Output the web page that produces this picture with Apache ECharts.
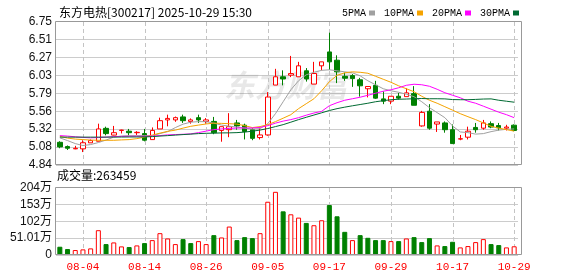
<!DOCTYPE html>
<html>
<head>
<meta charset="utf-8">
<script src="https://cdn.jsdelivr.net/npm/echarts@6/dist/echarts.min.js"></script>
<style>
html,body{margin:0;padding:0;background:#fff;}
#chart{width:578px;height:276px;}
</style>
</head>
<body>
<div id="chart"></div>
<script>
const titleText = '东方电热[300217] 2025-10-29 15:30';
const categories = ['07-30','07-31','08-01','08-04','08-05','08-06','08-07','08-08','08-11','08-12','08-13','08-14','08-15','08-18','08-19','08-20','08-21','08-22','08-25','08-26','08-27','08-28','08-29','09-01','09-02','09-03','09-04','09-05','09-08','09-09','09-10','09-11','09-12','09-15','09-16','09-17','09-18','09-19','09-22','09-23','09-24','09-25','09-26','09-29','09-30','10-09','10-10','10-13','10-14','10-15','10-16','10-17','10-20','10-21','10-22','10-23','10-24','10-27','10-28','10-29'];
const labelDates = ['08-04','08-14','08-26','09-05','09-17','09-29','10-17','10-29'];

const opens  = [5.142,5.085,5.055,5.055,5.135,5.156,5.328,5.238,5.300,5.290,5.270,5.258,5.178,5.320,5.440,5.440,5.480,5.420,5.470,5.420,5.420,5.300,5.310,5.400,5.370,5.310,5.205,5.240,5.904,6.014,6.036,6.014,6.094,5.917,6.160,6.345,6.235,6.020,6.030,5.974,5.855,5.900,5.720,5.690,5.755,5.750,5.790,5.360,5.556,5.385,5.400,5.310,5.185,5.210,5.340,5.330,5.390,5.365,5.330,5.370];
const closes = [5.081,5.063,5.062,5.136,5.165,5.320,5.258,5.270,5.305,5.270,5.275,5.170,5.300,5.430,5.460,5.470,5.430,5.440,5.440,5.440,5.270,5.350,5.350,5.360,5.285,5.195,5.240,5.745,6.014,5.985,6.057,6.160,5.985,6.058,6.213,6.213,6.080,5.995,5.990,5.894,5.885,5.730,5.690,5.755,5.730,5.800,5.635,5.540,5.330,5.413,5.310,5.125,5.190,5.290,5.310,5.400,5.345,5.335,5.345,5.300];
const lows   = [5.063,5.040,5.050,5.012,5.135,5.156,5.235,5.235,5.260,5.230,5.240,5.155,5.178,5.320,5.355,5.415,5.400,5.390,5.400,5.390,5.250,5.150,5.210,5.310,5.180,5.170,5.180,5.230,5.904,5.900,6.010,6.014,5.950,5.917,6.100,6.107,5.930,5.960,5.880,5.750,5.740,5.720,5.650,5.650,5.710,5.750,5.635,5.350,5.310,5.280,5.270,5.125,5.170,5.180,5.270,5.310,5.330,5.300,5.300,5.290];
const highs  = [5.156,5.100,5.095,5.169,5.180,5.390,5.350,5.360,5.310,5.320,5.290,5.320,5.340,5.470,5.510,5.485,5.510,5.460,5.510,5.465,5.480,5.350,5.530,5.440,5.390,5.330,5.330,5.810,6.120,6.100,6.292,6.213,6.130,6.213,6.213,6.601,6.300,6.070,6.050,6.000,5.885,5.960,5.820,5.755,5.800,5.860,5.890,5.560,5.650,5.413,5.420,5.380,5.240,5.350,5.400,5.440,5.420,5.400,5.375,5.380];

const ma5  = [5.201,5.165,5.125,5.099,5.112,5.139,5.172,5.211,5.225,5.231,5.231,5.231,5.231,5.258,5.284,5.338,5.384,5.410,5.417,5.417,5.397,5.371,5.357,5.344,5.331,5.318,5.324,5.390,5.523,5.682,5.841,5.961,6.041,6.074,6.100,6.107,6.094,6.080,6.067,6.027,5.961,5.908,5.855,5.828,5.808,5.782,5.749,5.682,5.603,5.537,5.470,5.360,5.280,5.271,5.251,5.258,5.284,5.304,5.315,5.320];
const ma10 = [5.222,5.198,5.185,5.178,5.172,5.169,5.169,5.169,5.174,5.178,5.191,5.211,5.238,5.264,5.288,5.304,5.331,5.355,5.371,5.386,5.397,5.394,5.390,5.384,5.364,5.338,5.351,5.377,5.417,5.463,5.510,5.590,5.656,5.722,5.828,5.948,6.034,6.067,6.080,6.074,6.061,6.021,5.981,5.941,5.894,5.855,5.815,5.755,5.702,5.662,5.616,5.570,5.523,5.483,5.444,5.400,5.355,5.331,5.311,5.291];
const ma20 = [5.231,5.225,5.215,5.207,5.202,5.205,5.211,5.218,5.221,5.222,5.222,5.222,5.225,5.231,5.241,5.245,5.249,5.254,5.271,5.291,5.311,5.320,5.327,5.332,5.333,5.333,5.340,5.364,5.397,5.424,5.444,5.470,5.503,5.532,5.554,5.629,5.669,5.702,5.722,5.742,5.768,5.795,5.822,5.841,5.868,5.901,5.915,5.908,5.888,5.848,5.802,5.768,5.735,5.689,5.662,5.623,5.583,5.543,5.510,5.470];
const ma30 = [5.211,5.211,5.211,5.211,5.211,5.211,5.211,5.212,5.212,5.213,5.213,5.214,5.218,5.225,5.231,5.238,5.245,5.251,5.258,5.262,5.264,5.267,5.268,5.271,5.278,5.290,5.305,5.325,5.351,5.377,5.410,5.444,5.475,5.505,5.535,5.565,5.590,5.610,5.628,5.645,5.662,5.682,5.696,5.709,5.715,5.718,5.722,5.725,5.722,5.722,5.720,5.711,5.709,5.709,5.713,5.718,5.720,5.702,5.689,5.676];

const volumes = [250000,180000,150000,170000,200000,750000,330000,380000,260000,240000,290000,360000,450000,660000,500000,330000,480000,360000,420000,330000,600000,530000,860000,450000,540000,510000,660000,1610000,1910000,1320000,1230000,1130000,970000,900000,1050000,1510000,1170000,700000,450000,600000,520000,450000,450000,420000,420000,500000,540000,390000,510000,290000,270000,400000,230000,270000,390000,480000,330000,300000,230000,263459];
const volUp = [0,0,1,1,1,1,0,1,1,0,1,0,1,1,1,1,0,0,1,1,0,1,1,0,0,0,1,1,1,0,1,1,0,1,1,0,0,0,1,0,0,0,0,1,0,1,0,0,0,1,0,0,1,1,1,1,0,0,1,1];

const priceTicks = ['4.84','5.08','5.32','5.56','5.79','6.03','6.27','6.51','6.75'];
const volTicks = ['0','51.01万','102万','153万','204万'];
const priceMin = 4.84, priceMax = 6.75;
const volMax = 2040400;

const RED = '#ff0000', GREEN = '#008000';
const chart = echarts.init(document.getElementById('chart'), null, {renderer: 'canvas'});

const candleData = categories.map((c, i) => [opens[i], closes[i], lows[i], highs[i]]);
const volData = volumes.map((v, i) => ({
  value: v,
  itemStyle: volUp[i] ? {color: '#ffffff', borderColor: RED, borderWidth: 1} : {color: GREEN, borderColor: GREEN, borderWidth: 1}
}));
const axisFont = "'Liberation Sans', 'Noto Sans CJK SC', sans-serif";
const monoFont = "'Liberation Mono', monospace";

const option = {
  animation: false,
  backgroundColor: '#ffffff',
  title: {
    text: titleText, left: 54, top: 1,
    textStyle: {fontSize: 12, fontWeight: 'normal', color: '#000', fontFamily: "'Noto Sans CJK SC', sans-serif"}
  },
  legend: {
    data: ['5PMA', '10PMA', '20PMA', '30PMA'],
    left: 337, top: 3, align: 'right', icon: 'rect', itemWidth: 6, itemHeight: 5, itemGap: 9,
    textStyle: {fontFamily: monoFont, fontSize: 10, color: '#000', padding: [0, -2, 0, 0]}
  },
  grid: [
    {left: 56, top: 21.5, width: 462, height: 143.5},
    {left: 56, top: 187.5, width: 462, height: 67.5}
  ],
  xAxis: [
    {type: 'category', gridIndex: 0, data: categories, boundaryGap: true,
      axisLine: {show: false}, axisTick: {show: false}, axisLabel: {show: false}, splitLine: {show: false}},
    {type: 'category', gridIndex: 1, data: categories, boundaryGap: true,
      axisLine: {show: false}, axisTick: {show: false}, splitLine: {show: false},
      axisLabel: {color: RED, fontFamily: monoFont, fontSize: 11, margin: 7,
        interval: (idx, val) => labelDates.indexOf(val) >= 0}}
  ],
  yAxis: [
    {type: 'value', gridIndex: 0, min: priceMin, max: priceMax, interval: (priceMax - priceMin) / 8,
      axisLine: {show: false}, axisTick: {show: false},
      splitLine: {show: true, lineStyle: {color: '#cccccc', width: 1}},
      axisLabel: {color: '#111', fontFamily: axisFont, fontSize: 12, margin: 4, showMinLabel: true, showMaxLabel: true,
        formatter: v => priceTicks[Math.round((v - priceMin) / ((priceMax - priceMin) / 8))]}},
    {type: 'value', gridIndex: 1, min: 0, max: volMax, interval: volMax / 4,
      axisLine: {show: false}, axisTick: {show: false},
      splitLine: {show: true, lineStyle: {color: '#cccccc', width: 1}},
      axisLabel: {color: '#111', fontFamily: axisFont, fontSize: 12, margin: 4, showMinLabel: true, showMaxLabel: true,
        formatter: v => volTicks[Math.round(v / (volMax / 4))]}}
  ],
  series: [
    {name: 'K', type: 'candlestick', xAxisIndex: 0, yAxisIndex: 0, data: candleData, barWidth: 5, z: 3,
      itemStyle: {color: '#ffffff', color0: GREEN, borderColor: RED, borderColor0: GREEN, borderWidth: 1}},
    {name: '5PMA', type: 'line', xAxisIndex: 0, yAxisIndex: 0, data: ma5, showSymbol: false, symbol: 'none', z: 4,
      lineStyle: {color: '#a0a0a0', width: 1}, itemStyle: {color: '#a0a0a0'}},
    {name: '10PMA', type: 'line', xAxisIndex: 0, yAxisIndex: 0, data: ma10, showSymbol: false, symbol: 'none', z: 4,
      lineStyle: {color: '#f5a300', width: 1}, itemStyle: {color: '#f5a300'}},
    {name: '20PMA', type: 'line', xAxisIndex: 0, yAxisIndex: 0, data: ma20, showSymbol: false, symbol: 'none', z: 4,
      lineStyle: {color: '#ff00ff', width: 1}, itemStyle: {color: '#ff00ff'}},
    {name: '30PMA', type: 'line', xAxisIndex: 0, yAxisIndex: 0, data: ma30, showSymbol: false, symbol: 'none', z: 4,
      lineStyle: {color: '#006a32', width: 1}, itemStyle: {color: '#006a32'}},
    {name: 'VOL', type: 'bar', xAxisIndex: 1, yAxisIndex: 1, data: volData, barWidth: 5, z: 3}
  ]
};
chart.setOption(option);

// vertical dashed grid lines at the labelled dates; x taken from the grid's own scale
const gridSpans = [[22, 165], [188, 255]];
const dashEls = [];
labelDates.forEach(d => {
  let pt = chart.convertToPixel({gridIndex: 0}, [d, priceMin]);
  let px = pt && isFinite(pt[0]) ? pt[0] : chart.convertToPixel({xAxisIndex: 0}, categories.indexOf(d));
  const x = Math.round(px);
  gridSpans.forEach(r => {
    for (let y = r[0]; y < r[1]; y += 7) {
      const y2 = Math.min(y + 4, r[1]);
      dashEls.push({type: 'rect', silent: true, z: 2, zlevel: 0,
        shape: {x: x, y: y, width: 1, height: y2 - y},
        style: {fill: '#c4c4c4'}});
    }
  });
});
chart.setOption({
  graphic: {elements: [
    {type: 'text', left: 224, top: 70, z: 0, silent: true,
      style: {text: '东方财富', fill: 'rgba(120,120,120,0.17)', font: "italic bold 31px 'Noto Sans CJK SC'"}},
    {type: 'rect', z: 10, silent: true, shape: {x: 55.5, y: 21.5, width: 466, height: 143}, style: {fill: 'none', stroke: '#999', lineWidth: 1}},
    {type: 'rect', z: 10, silent: true, shape: {x: 55.5, y: 187.5, width: 466, height: 67}, style: {fill: 'none', stroke: '#999', lineWidth: 1}},
    {type: 'text', left: 57, top: 169, silent: true,
      style: {text: '成交量:' + volumes[volumes.length - 1], fill: '#000', font: "12px 'Noto Sans CJK SC'"}}
  ].concat(dashEls)}
});
</script>
</body>
</html>
